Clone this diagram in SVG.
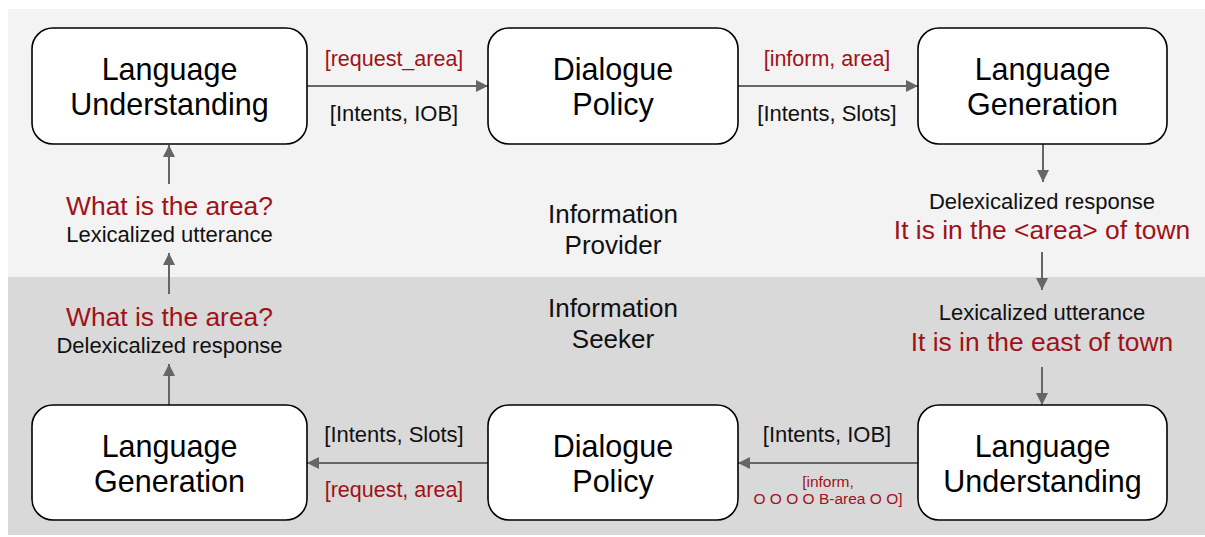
<svg xmlns="http://www.w3.org/2000/svg" width="1205" height="537" viewBox="0 0 1205 537">
<style>
.box{fill:#fff;stroke:#000;stroke-width:1.6}
.t{font-family:"Liberation Sans",Arial,sans-serif;text-anchor:middle}
.bt{font-size:30.5px;fill:#000}
.lb{font-size:22px;fill:#111}
.rd{font-size:21.5px;fill:#a01218}
.rb{font-size:26.4px;fill:#a01218}
.sm{font-size:15.5px;fill:#a01218}
.ce{font-size:26px;fill:#111}
.c{stroke:#666;stroke-width:2;fill:none;marker-end:url(#ah)}
</style>
<defs>
<marker id="ah" viewBox="0 0 12 12" refX="12" refY="6" markerWidth="12" markerHeight="12" markerUnits="userSpaceOnUse" orient="auto">
<path d="M0,0 L12,6 L0,12 Z" fill="#666"/>
</marker>
</defs>
<rect x="0" y="0" width="1205" height="537" fill="#fff"/>
<rect x="8" y="9" width="1197" height="268" fill="#f3f3f3"/>
<rect x="8" y="277" width="1197" height="258" fill="#d9d9d9"/>

<g id="connectors">
<line class="c" x1="307" y1="86" x2="488" y2="86"/>
<line class="c" x1="738" y1="86" x2="918" y2="86"/>
<line class="c" x1="1043" y1="144" x2="1043" y2="182"/>
<line class="c" x1="1042" y1="252" x2="1042" y2="290"/>
<line class="c" x1="1042" y1="367" x2="1042" y2="405"/>
<line class="c" x1="918" y1="463" x2="738" y2="463"/>
<line class="c" x1="488" y1="463" x2="307" y2="463"/>
<line class="c" x1="169" y1="405" x2="169" y2="364"/>
<line class="c" x1="169" y1="294" x2="169" y2="253"/>
<line class="c" x1="169" y1="184" x2="169" y2="145"/>
<text class="t rd" x="394" y="66">[request_area]</text>
<text class="t lb" x="394" y="121">[Intents, IOB]</text>
<text class="t rd" x="827" y="66">[inform, area]</text>
<text class="t lb" x="827" y="121">[Intents, Slots]</text>
<text class="t lb" x="827" y="442">[Intents, IOB]</text>
<text class="t sm" x="828" y="487">[inform,</text>
<text class="t sm" x="828" y="504">O O O O B-area O O]</text>
<text class="t lb" x="394" y="442">[Intents, Slots]</text>
<text class="t rd" x="394" y="497">[request, area]</text>
</g>

<g id="lu-top">
<rect class="box" x="32" y="28" width="275" height="116" rx="21"/>
<text class="t bt" x="169.5" y="80">Language</text>
<text class="t bt" x="169.5" y="115">Understanding</text>
</g>
<g id="dp-top">
<rect class="box" x="488" y="28" width="250" height="116" rx="21"/>
<text class="t bt" x="613" y="80">Dialogue</text>
<text class="t bt" x="613" y="115">Policy</text>
</g>
<g id="lg-top">
<rect class="box" x="918" y="28" width="249" height="116" rx="21"/>
<text class="t bt" x="1042.5" y="80">Language</text>
<text class="t bt" x="1042.5" y="115">Generation</text>
</g>
<g id="lg-bottom">
<rect class="box" x="32" y="405" width="275" height="115" rx="21"/>
<text class="t bt" x="169.5" y="457">Language</text>
<text class="t bt" x="169.5" y="492">Generation</text>
</g>
<g id="dp-bottom">
<rect class="box" x="488" y="405" width="250" height="115" rx="21"/>
<text class="t bt" x="613" y="457">Dialogue</text>
<text class="t bt" x="613" y="492">Policy</text>
</g>
<g id="lu-bottom">
<rect class="box" x="918" y="405" width="249" height="115" rx="21"/>
<text class="t bt" x="1042.5" y="457">Language</text>
<text class="t bt" x="1042.5" y="492">Understanding</text>
</g>

<g id="provider-label">
<text class="t ce" x="613" y="223">Information</text>
<text class="t ce" x="613" y="254">Provider</text>
</g>
<g id="seeker-label">
<text class="t ce" x="613" y="317">Information</text>
<text class="t ce" x="613" y="348">Seeker</text>
</g>

<g id="left-top-utterance">
<text class="t rb" x="169.5" y="215">What is the area?</text>
<text class="t lb" x="169.5" y="242">Lexicalized utterance</text>
</g>
<g id="left-bottom-response">
<text class="t rb" x="169.5" y="326">What is the area?</text>
<text class="t lb" x="169.5" y="353">Delexicalized response</text>
</g>
<g id="right-top-response">
<text class="t lb" x="1042" y="209">Delexicalized response</text>
<text class="t rb" x="1042" y="239">It is in the &lt;area&gt; of town</text>
</g>
<g id="right-bottom-utterance">
<text class="t lb" x="1042" y="320">Lexicalized utterance</text>
<text class="t rb" x="1042" y="351">It is in the east of town</text>
</g>
</svg>
